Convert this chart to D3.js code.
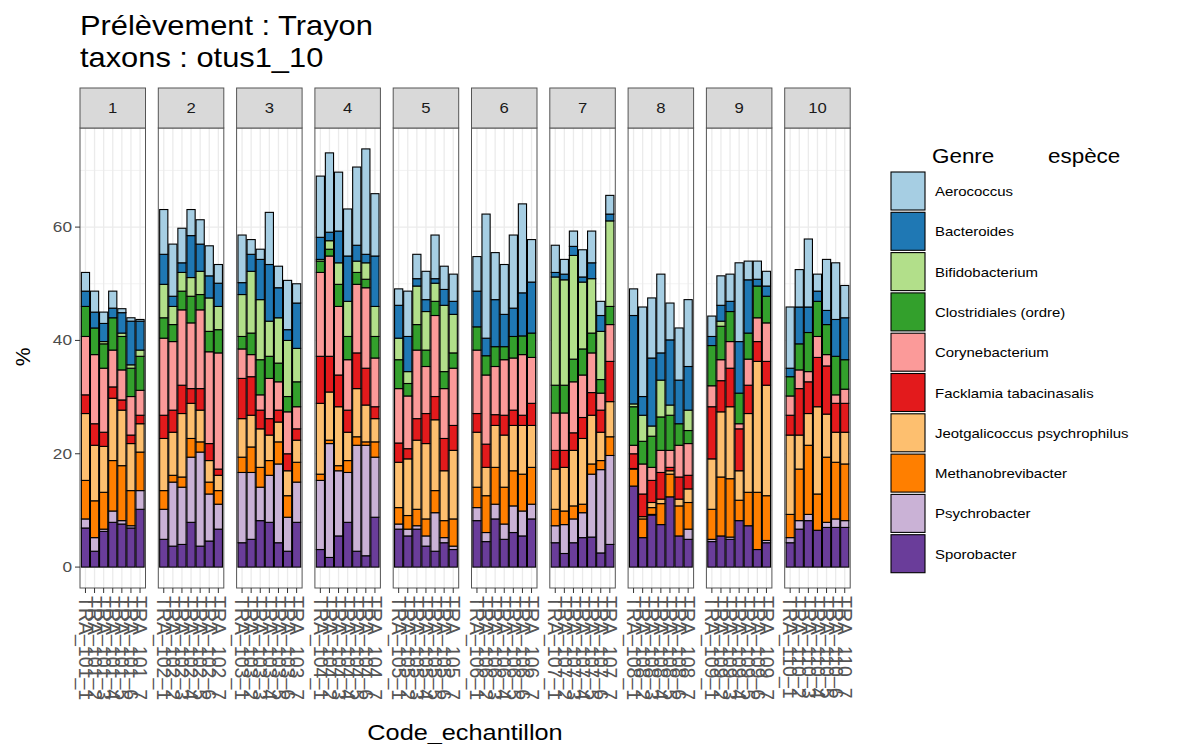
<!DOCTYPE html>
<html lang="fr">
<head>
<meta charset="UTF-8">
<title>Prélèvement : Trayon</title>
<style>
  body { margin: 0; background: #fff; font-family: "Liberation Sans", Arial, sans-serif; }
  text { font-family: "Liberation Sans", Arial, sans-serif; }
</style>
</head>
<body>
<svg id="chart" width="1203" height="744"></svg>
<script src="https://d3js.org/d3.v7.min.js"></script>
<script>
// facettes et échantillons
var facettes = ["1", "2", "3", "4", "5", "6", "7", "8", "9", "10"];
var facetteEchantillon = [
  "1","1","1","1","1","1","1", "2","2","2","2","2","2","2", "3","3","3","3","3","3","3",
  "4","4","4","4","4","4","4", "5","5","5","5","5","5","5", "6","6","6","6","6","6","6",
  "7","7","7","7","7","7","7", "8","8","8","8","8","8","8", "9","9","9","9","9","9","9",
  "10","10","10","10","10","10","10"];
var codes = [
  "TRA_101_1","TRA_101_2","TRA_101_3","TRA_101_4","TRA_101_5","TRA_101_6","TRA_101_7",
  "TRA_102_1","TRA_102_2","TRA_102_3","TRA_102_4","TRA_102_5","TRA_102_6","TRA_102_7",
  "TRA_103_1","TRA_103_2","TRA_103_3","TRA_103_4","TRA_103_5","TRA_103_6","TRA_103_7",
  "TRA_104_1","TRA_104_2","TRA_104_3","TRA_104_4","TRA_104_5","TRA_104_6","TRA_104_7",
  "TRA_105_1","TRA_105_2","TRA_105_3","TRA_105_4","TRA_105_5","TRA_105_6","TRA_105_7",
  "TRA_106_1","TRA_106_2","TRA_106_3","TRA_106_4","TRA_106_5","TRA_106_6","TRA_106_7",
  "TRA_107_1","TRA_107_2","TRA_107_3","TRA_107_4","TRA_107_5","TRA_107_6","TRA_107_7",
  "TRA_108_1","TRA_108_2","TRA_108_3","TRA_108_4","TRA_108_5","TRA_108_6","TRA_108_7",
  "TRA_109_1","TRA_109_2","TRA_109_3","TRA_109_4","TRA_109_5","TRA_109_6","TRA_109_7",
  "TRA_110_1","TRA_110_2","TRA_110_3","TRA_110_4","TRA_110_5","TRA_110_6","TRA_110_7"];

// genres (ordre de la légende)
var genres = ["Aerococcus", "Bacteroides", "Bifidobacterium", "Clostridiales (ordre)",
  "Corynebacterium", "Facklamia tabacinasalis", "Jeotgalicoccus psychrophilus",
  "Methanobrevibacter", "Psychrobacter", "Sporobacter"];

// % par échantillon, 7 par facette
var aerococcus = [3.3,3.7,2.0,3.0,0.7,0.6,0.3, 7.9,9.2,6.1,4.6,4.3,5.3,3.3, 8.4,2.6,1.8,9.2,3.8,8.7,3.4,
  10.8,14.0,10.4,8.3,13.8,18.6,11.0, 2.9,8.0,4.3,5.0,7.7,4.1,4.8, 6.1,21.9,8.3,8.8,12.9,15.7,7.5,
  4.8,2.6,2.7,4.8,5.6,2.5,3.3, 4.7,15.8,10.6,13.9,6.5,9.2,11.8, 3.6,5.2,4.8,13.9,3.3,3.2,2.6,
  10.8,6.6,12.0,3.0,9.0,10.0,5.7];
var bacteroides = [2.7,2.8,3.2,1.7,3.6,7.7,5.1, 5.3,1.8,1.7,7.4,4.8,3.9,4.1, 2.1,3.0,7.1,10.0,5.3,1.9,8.0,
  3.9,1.5,5.6,8.0,2.8,1.5,8.9, 5.8,6.2,1.3,2.1,0.8,2.8,2.3, 6.3,3.1,8.3,5.7,5.0,7.6,9.0,
  0.8,1.0,1.6,0.9,2.8,2.8,1.2, 15.6,3.3,12.0,4.8,11.5,7.7,7.7, 1.6,2.8,1.8,9.1,9.4,1.2,1.8,
  1.5,6.5,4.5,1.8,2.5,6.5,7.4];
var bifidobacterium = [0,0,0.4,0,0.6,0.6,1.1, 5.9,3.2,3.3,3.3,4.1,5.9,4.1, 7.4,10.9,10.6,6.2,8.0,9.9,5.9,
  0.3,1.5,3.8,6.2,2.0,2.9,5.3, 3.8,2.1,6.8,6.8,3.2,11.7,6.8, 0,0,0,0,0,0,0,
  19.1,18.6,18.3,11.8,9.6,8.5,15.1, 0.5,4.6,1.8,6.5,1.8,0,3.6, 0,0.9,0,0,0,0,0,
  0,0,0,0,0,0,0];
var clostridiales = [5.3,4.7,4.3,5.7,5.9,5.0,6.0, 3.6,3.0,3.3,4.7,2.7,3.6,4.1, 2.2,3.8,6.2,3.9,3.3,2.7,4.4,
  2.0,1.2,3.9,4.1,2.1,1.5,3.8, 5.1,2.2,4.5,2.9,2.5,3.0,2.7, 4.1,3.4,3.5,2.3,3.8,3.3,4.3,
  4.9,4.9,4.0,4.6,3.5,2.4,3.2, 6.8,4.0,5.5,5.9,6.2,3.8,2.3, 7.1,5.9,5.3,5.4,4.6,5.6,4.7,
  3.4,4.6,6.9,6.2,5.3,6.8,5.2];
var corynebacterium = [10.3,12.2,11.3,6.5,5.3,6.8,4.4, 13.6,12.1,13.3,11.6,13.9,16.2,20.5, 5.2,3.9,2.7,7.1,5.0,7.4,3.9,
  14.8,17.7,12.1,8.9,12.1,14.2,8.6, 9.6,9.3,12.1,8.3,14.3,8.8,10.1, 11.2,12.2,8.5,9.8,9.2,10.7,8.1,
  6.6,6.6,9.0,7.5,7.0,3.0,6.5, 1.5,5.3,2.3,3.9,3.0,5.6,5.6, 3.7,3.7,4.7,0.9,4.6,4.2,6.8,
  3.4,3.3,1.8,3.7,2.0,1.5,2.5];
var facklamia = [3.3,3.8,2.5,2.0,1.8,1.5,1.5, 4.1,3.9,5.0,2.6,3.8,3.0,1.1, 7.1,6.8,3.3,2.9,2.1,3.0,2.0,
  8.3,6.3,5.6,3.9,6.3,6.5,2.1, 3.4,1.8,3.8,5.3,4.1,5.7,4.4, 3.3,4.1,1.9,3.5,2.7,1.8,3.9,
  3.3,3.0,3.1,3.7,4.0,3.9,7.1, 2.6,4.0,3.9,4.7,0.6,3.9,2.4, 9.2,5.5,6.8,7.4,5.0,3.5,4.2,
  3.5,8.2,5.6,8.7,8.5,5.1,5.1];
var jeotgalicoccus = [11.8,9.8,8.1,11.0,9.8,8.3,5.0, 9.2,7.6,11.2,6.2,5.6,3.8,2.7, 6.8,5.6,6.8,4.5,3.5,4.4,3.9,
  12.5,8.5,10.4,5.0,8.5,6.5,4.1, 8.0,10.0,12.2,13.3,12.5,8.8,12.1, 9.7,5.0,7.4,9.2,8.0,8.6,7.4,
  7.1,7.7,9.8,11.6,8.6,5.0,6.2, 0.1,0.4,0.9,0.8,0.6,1.2,2.4, 8.9,11.5,12.7,5.2,13.9,23.1,19.5,
  14.0,6.0,5.6,15.4,7.6,5.3,5.6];
var methanobrevibacter = [6.8,6.5,6.5,8.9,9.7,6.2,6.8, 3.3,1.2,1.8,3.3,1.8,2.1,2.4, 2.7,4.5,3.5,2.6,3.9,3.8,3.5,
  1.1,0.6,0.9,2.1,1.5,0.6,2.7, 2.9,2.4,2.9,3.0,3.9,3.0,4.8, 3.6,6.5,6.5,6.5,6.2,6.5,6.5,
  2.9,2.4,2.3,1.5,1.8,1.6,3.3, 3.0,3.3,1.2,3.7,4.0,5.3,4.7, 5.3,10.4,10.3,3.6,5.9,10.1,7.9,
  4.1,9.1,12.2,6.4,11.5,10.0,10.0];
var psychrobacter = [1.6,2.4,0.4,2.0,0.6,0.4,3.3, 5.3,11.3,10.1,11.5,16.6,8.3,4.4, 12.4,11.8,5.9,8.3,13.9,6.0,7.1,
  12.2,20.1,11.5,8.8,18.7,19.5,10.6, 0.9,1.2,0.6,1.8,6.8,0.9,0.6, 2.3,1.6,2.6,2.7,4.7,4.4,2.6,
  3.0,5.1,4.2,4.4,11.1,14.7,15.7, 0,0,0.1,0,0,0,1.8, 0.4,0,0.4,0,0,0,0.4,
  0.9,1.5,1.1,0,0.9,1.5,1.2];
var sporobacter = [6.9,2.8,6.3,7.9,7.6,6.9,10.2, 4.9,3.7,4.0,7.9,3.7,4.6,6.7, 4.3,4.9,8.2,7.9,4.3,2.8,7.9,
  3.1,1.7,5.5,7.9,2.8,2.0,8.8, 6.7,5.5,6.7,3.7,2.8,4.3,3.1, 8.2,4.5,8.5,4.9,6.1,5.5,8.5,
  4.3,2.4,4.3,5.2,5.3,2.5,4.0, 14.3,5.2,9.2,7.5,12.4,5.5,4.9, 4.5,5.5,4.9,8.2,7.3,3.1,4.3,
  4.3,6.7,8.2,6.5,7.0,7.0,7.0];

var yTicks = [0, 20, 40, 60];
var yMinor = [10, 30, 50, 70];

var series = [aerococcus, bacteroides, bifidobacterium, clostridiales, corynebacterium,
  facklamia, jeotgalicoccus, methanobrevibacter, psychrobacter, sporobacter];

var rows = codes.map(function (c, i) {
  var r = { code: c, facette: facetteEchantillon[i] };
  genres.forEach(function (g, k) { r[g] = series[k][i]; });
  return r;
});

var SX = 1.15; // l'image d'origine est étirée horizontalement
var svg = d3.select("#chart");

function texte(g, x, y, s, size, anchor, color) {
  return g.append("text")
    .attr("transform", "translate(" + x + "," + y + ") scale(" + SX + ",1)")
    .attr("text-anchor", anchor || "start")
    .attr("font-size", size)
    .attr("fill", color || "#000")
    .text(s);
}

var plotTop = 128, plotBottom = 588, stripTop = 88;

var fx = d3.scaleBand().domain(facettes).range([80, 850.2]).paddingInner(0.1635).paddingOuter(0);

var totals = rows.map(function (r) { return d3.sum(genres, function (g) { return r[g]; }); });
var ymax = d3.max(totals);
var y = d3.scaleLinear().domain([-0.05 * ymax, 1.05 * ymax]).range([plotBottom, plotTop]);

var color = d3.scaleOrdinal().domain(genres).range(d3.schemePaired);

// empilement : Sporobacter en bas
var stack = d3.stack().keys(genres.slice().reverse());

facettes.forEach(function (f) {
  var data = rows.filter(function (r) { return r.facette === f; });
  var x0 = fx(f), w = fx.bandwidth();
  var x = d3.scalePoint().domain(data.map(function (d) { return d.code; }))
    .range([0, w]).padding(0.6);
  var barW = x.step() * 0.9;

  var g = svg.append("g").attr("transform", "translate(" + x0 + ",0)");

  // fond + grilles
  g.append("rect").attr("x", 0).attr("y", plotTop).attr("width", w)
    .attr("height", plotBottom - plotTop).attr("fill", "#fff");
  g.selectAll(".minor").data(yMinor).enter().append("line")
    .attr("x1", 0).attr("x2", w).attr("y1", function (d) { return y(d); })
    .attr("y2", function (d) { return y(d); }).attr("stroke", "#F0F0F0").attr("stroke-width", 0.8);
  g.selectAll(".major").data(yTicks).enter().append("line")
    .attr("x1", 0).attr("x2", w).attr("y1", function (d) { return y(d); })
    .attr("y2", function (d) { return y(d); }).attr("stroke", "#EBEBEB").attr("stroke-width", 1.3);
  g.selectAll(".vgrid").data(data).enter().append("line")
    .attr("x1", function (d) { return x(d.code); }).attr("x2", function (d) { return x(d.code); })
    .attr("y1", plotTop).attr("y2", plotBottom).attr("stroke", "#EBEBEB").attr("stroke-width", 1.3);

  // barres
  var layers = stack(data);
  layers.forEach(function (layer) {
    g.selectAll(null).data(layer).enter().append("rect")
      .attr("x", function (d) { return x(d.data.code) - barW / 2; })
      .attr("width", barW)
      .attr("y", function (d) { return y(d[1]); })
      .attr("height", function (d) { return Math.max(0, y(d[0]) - y(d[1])); })
      .attr("fill", color(layer.key))
      .attr("stroke", "#000").attr("stroke-width", 1.1);
  });

  // cadre
  g.append("rect").attr("x", 0).attr("y", plotTop).attr("width", w)
    .attr("height", plotBottom - plotTop).attr("fill", "none").attr("stroke", "#555").attr("stroke-width", 1);

  // bandeau
  g.append("rect").attr("x", 0).attr("y", stripTop).attr("width", w)
    .attr("height", plotTop - stripTop).attr("fill", "#D9D9D9").attr("stroke", "#555").attr("stroke-width", 1);
  texte(g, w / 2, (stripTop + plotTop) / 2 + 5, f, 14.5, "middle", "#1A1A1A");

  // axe x
  g.selectAll(".xt").data(data).enter().append("line")
    .attr("x1", function (d) { return x(d.code); }).attr("x2", function (d) { return x(d.code); })
    .attr("y1", plotBottom).attr("y2", plotBottom + 5).attr("stroke", "#333");
  g.selectAll(".xl").data(data).enter().append("text")
    .attr("transform", function (d) {
      return "translate(" + x(d.code) + "," + (plotBottom + 8) + ") rotate(90)";
    })
    .attr("dy", "0.35em")
    .attr("font-size", 19.5).attr("fill", "#555")
    .text(function (d) { return d.code; });
});

// axe y
var ya = svg.append("g");
yTicks.forEach(function (t) {
  ya.append("line").attr("x1", 75).attr("x2", 80).attr("y1", y(t)).attr("y2", y(t)).attr("stroke", "#333");
  texte(ya, 72, y(t) + 5, String(t), 15, "end", "#4D4D4D");
});

// titres
texte(svg, 80, 35, "Prélèvement : Trayon", 26.8, "start", "#000");
texte(svg, 80, 67, "taxons : otus1_10", 26.8, "start", "#000");
texte(svg, 465, 740, "Code_echantillon", 22, "middle", "#000");
svg.append("text").attr("transform", "translate(30,357) rotate(-90)")
  .attr("text-anchor", "middle").attr("font-size", 21).text("%");

// légende
var lg = svg.append("g");
texte(lg, 932, 163, "Genre", 19.5, "start", "#000");
texte(lg, 1048, 163, "espèce", 19.5, "start", "#000");
genres.forEach(function (gname, i) {
  var cy = 191 + i * 40.3;
  lg.append("rect").attr("x", 891).attr("y", cy - 19).attr("width", 34).attr("height", 38)
    .attr("fill", color(gname)).attr("stroke", "#000").attr("stroke-width", 1.1);
  texte(lg, 935, cy + 5, gname, 13, "start", "#000");
});
</script>
</body>
</html>
